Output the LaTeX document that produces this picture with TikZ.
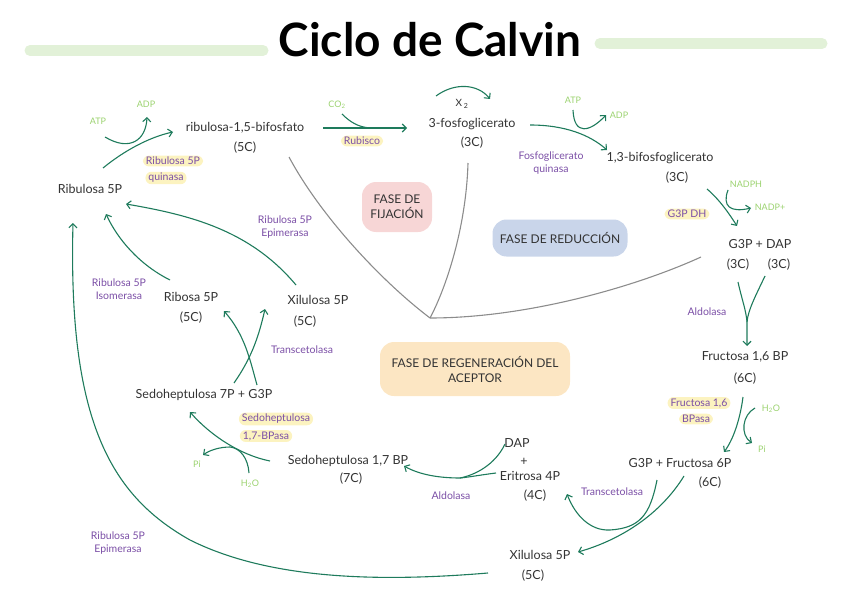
\documentclass[tikz,border=0pt]{standalone}
\usepackage{fontspec}
\setmainfont{Lato}
\usetikzlibrary{arrows.meta}
\definecolor{grn}{HTML}{1E7B5C}
\definecolor{purp}{HTML}{7B4FA6}
\definecolor{lgrn}{HTML}{9BD26F}
\definecolor{txtc}{HTML}{333333}
\definecolor{hly}{HTML}{FCF3C0}
\definecolor{pinkb}{HTML}{F7D6D6}
\definecolor{blueb}{HTML}{C9D5EA}
\definecolor{peachb}{HTML}{FCE6C3}
\definecolor{barg}{HTML}{E2F1D8}
\definecolor{grayl}{HTML}{8C8C8C}
\tikzset{
  txt/.style={text=txtc,font=\fontsize{12.5}{14}\selectfont,inner sep=1pt},
  enz/.style={text=purp,font=\fontsize{10.5}{13}\selectfont,inner sep=1pt,align=center},
  cof/.style={text=lgrn,font=\fontsize{9}{10}\selectfont,inner sep=1pt},
  hl/.style={fill=hly,rounded corners=6pt,inner xsep=3pt,inner ysep=1.5pt},
  arr/.style={draw=grn,line width=1.1pt,-{Straight Barb[length=4pt,width=8pt]}},
  ln/.style={draw=grn,line width=1.1pt},
  phase/.style={draw=grayl,line width=1.1pt},
  bub/.style={rounded corners=14pt,text=txtc,font=\fontsize{12}{15}\selectfont,align=center},
  bar/.style={draw=barg,line width=11pt,line cap=round}
}
\begin{document}
\begin{tikzpicture}[x=1pt,y=-1pt]
\useasboundingbox (0,0) rectangle (848,599);
% title
\draw[bar] (30,50.5) -- (263,50.5);
\draw[bar] (600,43.5) -- (822,43.5);
\node[font=\fontsize{46}{48}\selectfont\bfseries,text=black] (title) at (430,40) {Ciclo de Calvin};
% phase bubbles
\node[bub,fill=pinkb,minimum width=70pt,minimum height=50pt] (fij) at (397,207) {FASE DE\\FIJACIÓN};
\node[bub,fill=blueb,minimum width=135pt,minimum height=37pt] (red) at (560,238) {FASE DE REDUCCIÓN};
\node[bub,fill=peachb,minimum width=190pt,minimum height=54pt] (reg) at (475,369) {FASE DE REGENERACIÓN DEL\\ACEPTOR};
% phase lines
\coordinate (pc) at (430,318);
\coordinate (p1) at (289,157);
\coordinate (p2) at (468,163);
\coordinate (p3) at (701,257);
\draw[phase] (p1) .. controls (320,215) and (380,280) .. (pc);
\draw[phase] (p2) .. controls (466,230) and (445,290) .. (pc);
\draw[phase] (pc) .. controls (530,318) and (640,285) .. (p3);
% ---- nodes ----
\node[txt] (rubp) at (245,128) {ribulosa-1,5-bifosfato};
\node[txt] (rubpc) at (245,148) {(5C)};
\node[txt] (ru5) at (90,189) {Ribulosa 5P};
\node[cof] (atp1) at (98,121) {ATP};
\node[cof] (adp1) at (146,104) {ADP};
\node[enz,hl] (rkq1) at (173,161) {Ribulosa 5P};
\node[enz,hl] (rkq2) at (166,178) {quinasa};
\node[cof] (co2) at (337,105) {CO\textsubscript{2}};
\node[enz,hl] (rub) at (362,141) {Rubisco};
\node[txt,font=\fontsize{10}{11}\selectfont] (x2) at (462,104) {X\,\textsubscript{2}};
\node[txt] (pga) at (472,124) {3-fosfoglicerato};
\node[txt] (pgac) at (472,143) {(3C)};
\node[cof] (atp2) at (573,100) {ATP};
\node[cof] (adp2) at (619,115) {ADP};
\node[enz] (fgq) at (551,163) {Fosfoglicerato\\quinasa};
\node[txt] (bpg) at (660,158) {1,3-bifosfoglicerato};
\node[txt] (bpgc) at (677,178) {(3C)};
\node[cof] (nadph) at (746,184) {NADPH};
\node[cof] (nadp) at (770,207) {NADP+};
\node[enz,hl] (g3pdh) at (687,214) {G3P DH};
\node[txt] (gd) at (760,244) {G3P + DAP};
\node[txt] (gdc1) at (738,265) {(3C)};
\node[txt] (gdc2) at (779,265) {(3C)};
\node[enz] (ald1) at (707,312) {Aldolasa};
\node[txt] (fbp) at (745,357) {Fructosa 1,6 BP};
\node[txt] (fbpc) at (745,379) {(6C)};
\node[enz,hl] (fbpa1) at (699,403) {Fructosa 1,6};
\node[enz,hl] (fbpa2) at (696,419) {BPasa};
\node[cof] (h2o1) at (771,409) {H\textsubscript{2}O};
\node[cof] (pi1) at (762,449) {Pi};
\node[txt] (gf6) at (680,463) {G3P + Fructosa 6P};
\node[txt] (gf6c) at (710,483) {(6C)};
\node[enz] (tc1) at (612,492) {Transcetolasa};
\node[txt] (dap) at (517,443) {DAP};
\node[txt] (plus) at (524,462) {+};
\node[txt] (e4p) at (530,476) {Eritrosa 4P};
\node[txt] (e4pc) at (535,496) {(4C)};
\node[enz] (ald2) at (451,496) {Aldolasa};
\node[txt] (xu5b) at (540,555) {Xilulosa 5P};
\node[txt] (xu5bc) at (533,576) {(5C)};
\node[txt] (sbp) at (348,461) {Sedoheptulosa 1,7 BP};
\node[txt] (sbpc) at (351,479) {(7C)};
\node[enz,hl] (sbpa1) at (276,419) {Sedoheptulosa};
\node[enz,hl] (sbpa2) at (266,436) {1,7-BPasa};
\node[cof] (pi2) at (197,464) {Pi};
\node[cof] (h2o2) at (250,484) {H\textsubscript{2}O};
\node[txt] (s7p) at (204,395) {Sedoheptulosa 7P + G3P};
\node[enz] (tc2) at (302,350) {Transcetolasa};
\node[txt] (r5p) at (191,297) {Ribosa 5P};
\node[txt] (r5pc) at (191,318) {(5C)};
\node[txt] (xu5) at (318,300) {Xilulosa 5P};
\node[txt] (xu5c) at (305,322) {(5C)};
\node[enz] (iso) at (119,289) {Ribulosa 5P\\Isomerasa};
\node[enz] (epi1) at (285,227) {Ribulosa 5P\\Epimerasa};
\node[enz] (epi2) at (118,543) {Ribulosa 5P\\Epimerasa};
% ---- connectors ----
% Ribulosa 5P -> RuBP
\draw[arr] ([shift={(13,-21)}]ru5.center) .. controls (125,150) and (150,137) .. ([shift={(-72,4)}]rubp.center);
\draw[arr] ([shift={(7,16)}]atp1.center) .. controls (130,152) and (146,140) .. ([shift={(1,13)}]adp1.center);
% RuBP -> 3PG
\draw[arr] ([shift={(78,0)}]rubp.center) -- ([shift={(-65,4)}]pga.center);
\draw[ln] ([shift={(5,9)}]co2.center) .. controls (350,122) and (358,127) .. (370,128);
% X2
\draw[arr] ([shift={(-26,-8)}]x2.center) .. controls (455,82) and (478,84) .. ([shift={(28,-5)}]x2.center);
% 3PG -> 1,3BPG
\draw[arr] ([shift={(58,1)}]pga.center) .. controls (565,125) and (590,135) .. ([shift={(-53,-8)}]bpg.center);
\draw[arr] ([shift={(0,10)}]atp2.center) .. controls (574,136) and (590,132) .. ([shift={(-13,0)}]adp2.center);
% 1,3BPG -> G3P+DAP
\draw[arr] ([shift={(30,11)}]bpgc.center) .. controls (720,200) and (730,215) .. ([shift={(-23,-18)}]gd.center);
\draw[arr] ([shift={(-18,6)}]nadph.center) .. controls (722,206) and (730,213) .. ([shift={(-19,1)}]nadp.center);
% G3P+DAP -> F1,6BP
\coordinate (mf) at (747,322);
\draw[ln] ([shift={(0,17)}]gdc1.center) .. controls (742,300) and (746,310) .. (mf);
\draw[arr] ([shift={(-14,11)}]gdc2.center) .. controls (756,295) and (748,310) .. (mf) -- ([shift={(2,-11)}]fbp.center);
% F1,6BP -> G3P+F6P
\draw[arr] ([shift={(-2,18)}]fbpc.center) .. controls (740,420) and (733,440) .. ([shift={(44,-11)}]gf6.center);
\draw[arr] ([shift={(-16,-1)}]h2o1.center) .. controls (742,415) and (740,435) .. ([shift={(-10,-6)}]pi1.center);
% G3P+F6P -> E4P, Xu5P
\draw[arr] ([shift={(4,13)}]gf6.center) .. controls (660,515) and (620,540) .. ([shift={(38,-3)}]xu5b.center);
\draw[arr] ([shift={(-23,17)}]gf6.center) .. controls (650,515) and (640,528) .. (610,530) .. controls (590,531) and (575,515) .. ([shift={(32,-2)}]e4pc.center);
% DAP + E4P -> S1,7BP
\coordinate (mg) at (460,478);
\draw[ln] ([shift={(-12,1)}]dap.center) .. controls (495,465) and (475,475) .. (mg);
\draw[arr] ([shift={(-34,-3)}]e4p.center) .. controls (480,475) and (470,477) .. (mg) .. controls (440,478) and (420,475) .. ([shift={(56,5)}]sbp.center);
% S1,7BP -> S7P+G3P
\draw[arr] ([shift={(-78,0)}]sbp.center) .. controls (240,455) and (210,435) .. ([shift={(-14,17)}]s7p.center);
\draw[arr] ([shift={(-1,-11)}]h2o2.center) .. controls (248,458) and (240,448) .. (230,447) .. controls (220,447) and (210,450) .. ([shift={(6,-9)}]pi2.center);
% S7P+G3P -> Ribosa, Xilulosa
\draw[arr] ([shift={(30,-12)}]s7p.center) .. controls (250,360) and (258,340) .. ([shift={(-53,9)}]xu5.center);
\draw[arr] ([shift={(53,-10)}]s7p.center) .. controls (250,360) and (245,335) .. ([shift={(33,14)}]r5p.center);
% Ribosa -> Ribulosa 5P
\draw[arr] ([shift={(-21,-17)}]r5p.center) .. controls (140,265) and (118,240) .. ([shift={(16,25)}]ru5.center);
% Xilulosa -> Ribulosa 5P
\draw[arr] ([shift={(-22,-15)}]xu5.center) .. controls (250,230) and (190,215) .. ([shift={(36,15)}]ru5.center);
% Xilulosa (bottom) -> Ribulosa 5P
\draw[arr] ([shift={(-52,18)}]xu5b.center) .. controls (380,582) and (270,580) .. (190,540) .. controls (110,495) and (68,420) .. ([shift={(-17,34)}]ru5.center);
\end{tikzpicture}
\end{document}
